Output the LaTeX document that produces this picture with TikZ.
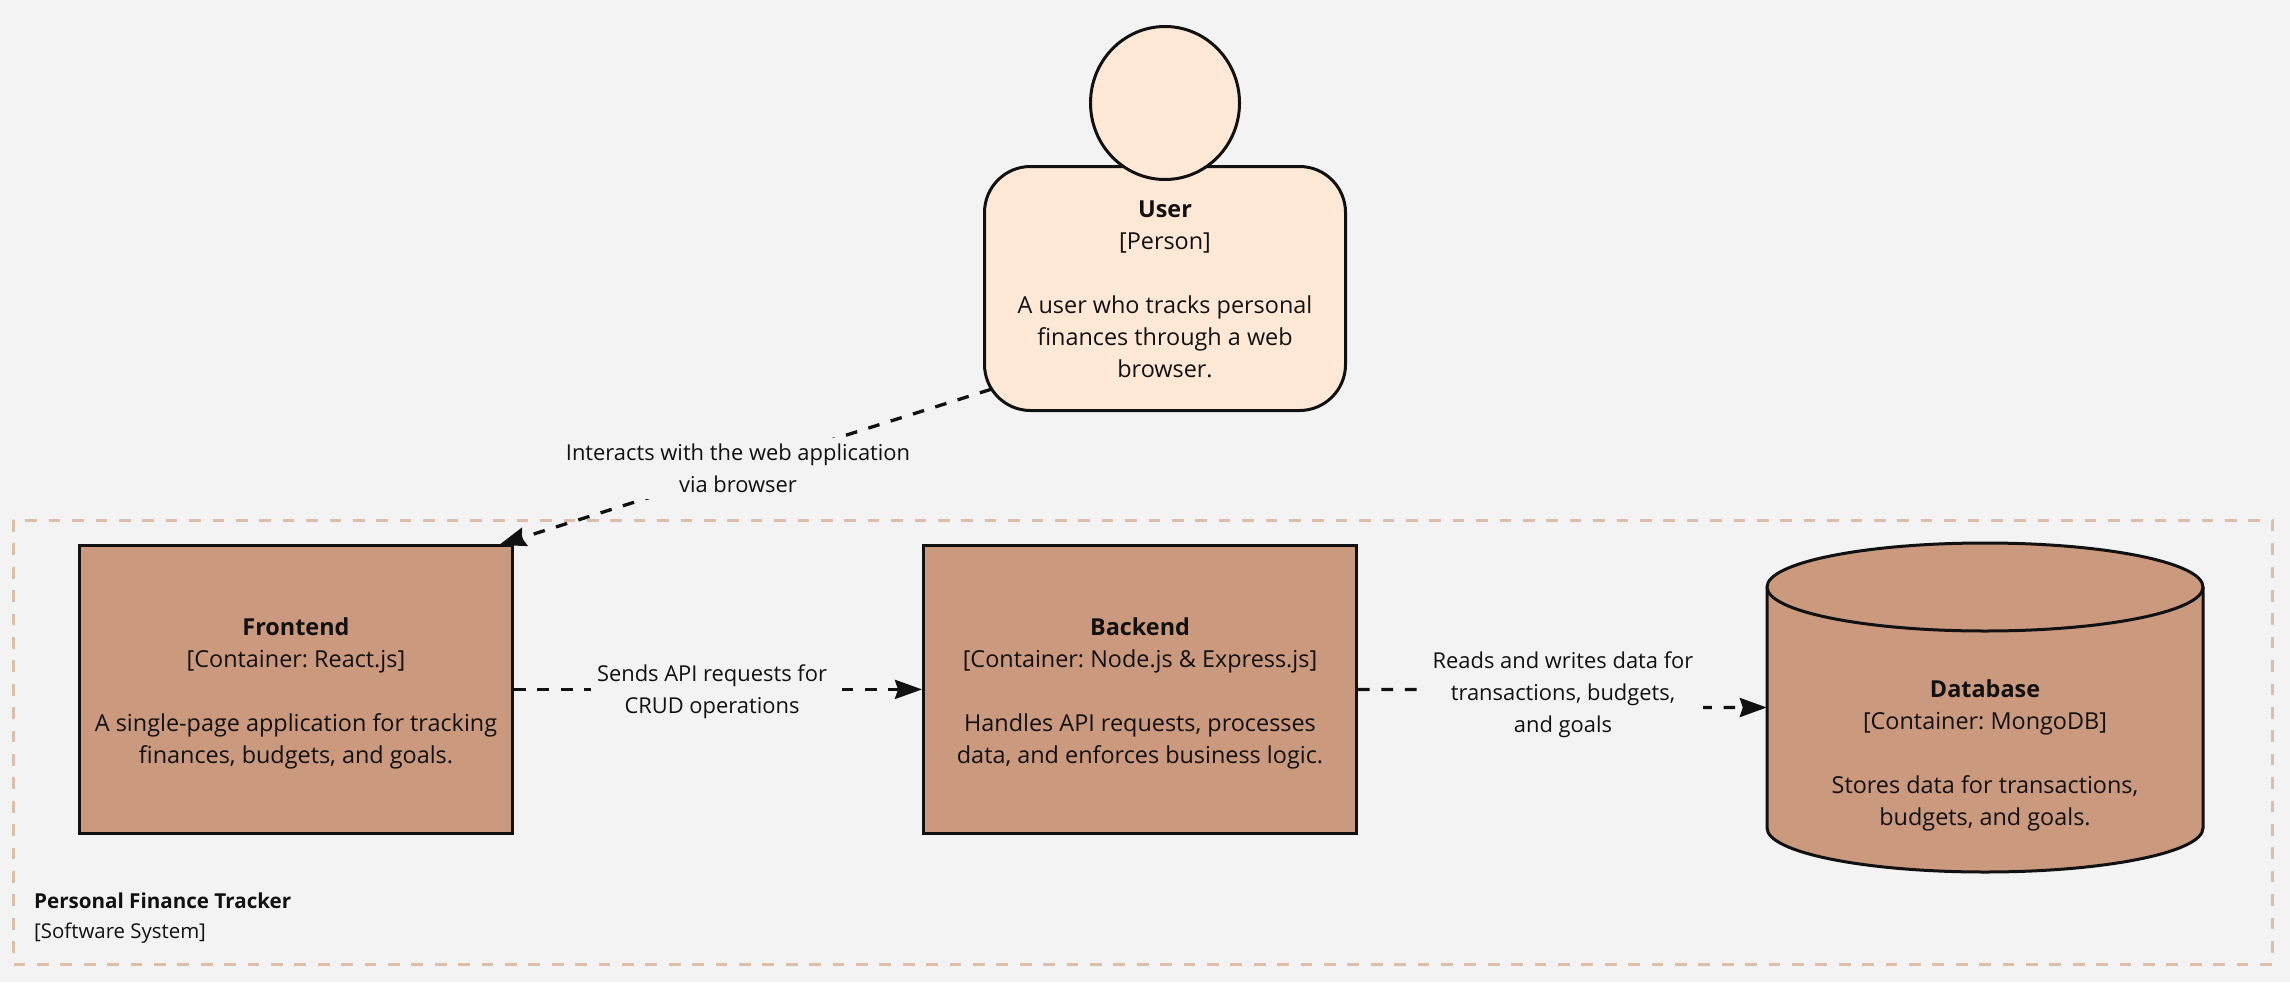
\documentclass[tikz,border=0pt]{standalone}
\usepackage{fontspec}
\setmainfont{Open Sans}
\usetikzlibrary{arrows.meta,shapes.geometric,calc}
\definecolor{bgc}{HTML}{F3F3F3}
\definecolor{boxc}{HTML}{CB997E}
\definecolor{userc}{HTML}{FFE8D6}
\definecolor{boundc}{HTML}{DDBEA9}
\definecolor{inkc}{HTML}{111111}
\newcommand{\maintext}{\fontsize{23.4}{32}\selectfont\frenchspacing}
\newcommand{\labeltext}{\fontsize{21.9}{32}\selectfont\frenchspacing}
\newcommand{\firstline}{\rule{0pt}{25pt}}
\tikzset{
  x=1pt,y=-1pt,
  boxnode/.style={draw=inkc,line width=3pt,fill=boxc,text=inkc,minimum width=433pt,minimum height=288pt,inner sep=0pt,align=center,font=\maintext},
  personbody/.style={draw=inkc,line width=3pt,fill=userc,text=inkc,minimum width=361pt,minimum height=244pt,inner sep=0pt,rounded corners=46pt,align=center,font=\maintext},
  personhead/.style={draw=inkc,line width=3pt,fill=userc,shape=ellipse,minimum width=149pt,minimum height=153pt,inner sep=0pt},
  dbtext/.style={text=inkc,minimum width=436pt,minimum height=329pt,inner sep=0pt,align=center,font=\maintext},
  dbshape/.style={draw=inkc,line width=3pt,fill=boxc,line join=round},
  rel/.style={draw=inkc,line width=3.3pt,dash pattern=on 11.7pt off 11.7pt,-{Stealth[length=27pt,width=19pt,inset=3pt]}},
  rellabel/.style={fill=bgc,text=inkc,inner xsep=6pt,inner ysep=3.5pt,align=center,font=\labeltext},
  boundary/.style={draw=boundc,line width=3pt,dash pattern=on 11.7pt off 11.7pt},
  boundarytext/.style={text=inkc,anchor=west,inner sep=0pt},
}
\begin{document}
\begin{tikzpicture}
\useasboundingbox[fill=bgc] (0,0) rectangle (2290,982);
\draw[boundary] (13,520) rectangle (2272,964);
\node[boundarytext,font=\fontsize{20.6}{24}\selectfont\bfseries\frenchspacing] (bname) at (34,901) {Personal Finance Tracker};
\node[boundarytext,font=\fontsize{20.4}{24}\selectfont\frenchspacing] (btype) at (34,933) {[Software System]};

\node[boxnode] (fe) at (296,689.5) {\firstline\textbf{Frontend}\\ {[Container: React.js]}\\[32pt] A single-page application for tracking\\ finances, budgets, and goals.};
\node[boxnode] (be) at (1140,689.5) {\firstline\textbf{Backend}\\ {[Container: Node.js \& Express.js]}\\[32pt] Handles API requests, processes\\ data, and enforces business logic.};

\draw[dbshape] (1767,587) -- (1767,828) arc[start angle=180,end angle=360,x radius=218pt,y radius=44pt] -- (2203,587) -- cycle;
\draw[dbshape] (1985,587) ellipse[x radius=218pt,y radius=44pt];
\node[dbtext] (db) at (1985,707.5) {};
\node[text=inkc,inner sep=0pt,align=center,font=\maintext] (dbcap) at (1985,751.5) {\firstline\textbf{Database}\\ {[Container: MongoDB]}\\[32pt] Stores data for transactions,\\ budgets, and goals.};

\coordinate (uout) at (991,389.3);
\coordinate (fein) at ($(fe.north east)+(-15,1)$);
\coordinate (bemid) at (1555,689.4);
\coordinate (dbmid) at (1569,707.5);

\draw[rel] (uout) -- (fein);
\draw[rel] (fe.east |- 0,689.4) -- (be.west |- 0,689.4);
\draw[rel] (be.east |- 0,689.4) -- (bemid) -- (dbmid) -- (db.west);

\node[rellabel,inner ysep=6.5pt] (l1) at (738,468.5) {Interacts with the web application\\ via browser};
\node[rellabel] (l2) at (712,692) {Sends API requests for\\ CRUD operations};
\node[rellabel,inner xsep=9.5pt] (l3) at (1563,695) {Reads and writes data for\\ transactions, budgets,\\ and goals};

\node[personbody] (user) at (1165,288.5) {\rule{0pt}{19pt}\textbf{User}\\ {[Person]}\\[32pt] A user who tracks personal\\ finances through a web\\ browser.};
\node[personhead] (head) at (1165,103) {};
\end{tikzpicture}
\end{document}
